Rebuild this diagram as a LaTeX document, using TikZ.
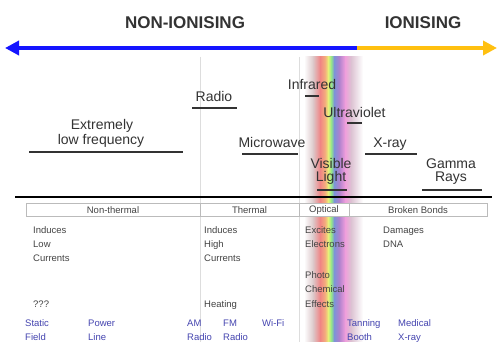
\documentclass[tikz,border=0pt]{standalone}
\usepackage{fontspec}
\setmainfont{Liberation Sans}
\usetikzlibrary{arrows.meta}
\definecolor{ionblue}{HTML}{1515FF}
\definecolor{ionyellow}{HTML}{FFC010}
\definecolor{txt}{HTML}{333333}
\definecolor{smalltxt}{HTML}{444444}
\definecolor{usetxt}{HTML}{4545B0}
\definecolor{guidecol}{HTML}{DDDDDD}
\definecolor{boxline}{HTML}{BBBBBB}
\definecolor{bandgray}{HTML}{DCC8CA}
\definecolor{bandred}{HTML}{F08484}
\definecolor{bandorange}{HTML}{F4AE7E}
\definecolor{bandyellow}{HTML}{E8F078}
\definecolor{bandgreen}{HTML}{96E888}
\definecolor{bandblue}{HTML}{7C94D8}
\definecolor{bandpurple}{HTML}{AE82CE}
\definecolor{bandpink}{HTML}{F09EDC}
\definecolor{bandpinkgray}{HTML}{DCC2D2}
\begin{document}
\begin{tikzpicture}[x=1pt,y=-1pt,
  lbl/.style={text=txt, font=\fontsize{14}{14}\selectfont, inner sep=0pt, anchor=base},
  headlbl/.style={text=txt, font=\fontsize{17}{17}\selectfont\bfseries, inner sep=0pt},
  sm/.style={text=smalltxt, font=\fontsize{9.5}{10}\selectfont, inner sep=0pt, anchor=base west},
  usel/.style={sm, text=usetxt},
  catlbl/.style={text=smalltxt, font=\fontsize{9.5}{10}\selectfont, inner sep=0pt},
  uline/.style={draw=txt, line width=1.3pt},
  guideline/.style={draw=guidecol, line width=1pt},
  catbox/.style={draw=boxline, line width=0.7pt, fill=white},
  bigarrow/.style={line width=4pt, -{Triangle[length=14pt,width=14pt]}}
]
\useasboundingbox (0,0) rectangle (498,342);
\fill[white] (0,0) rectangle (498,342);

% guide lines
\draw[guideline] (200,57) -- (200,342);
\draw[guideline] (299,57) -- (299,342);

% visible band
\shade[left color=white, right color=bandgray] (304,57) rectangle (313.3,342);
\shade[left color=bandgray, right color=bandred] (313,57) rectangle (320.3,342);
\shade[left color=bandred, right color=bandorange] (320,57) rectangle (325.3,342);
\shade[left color=bandorange, right color=bandyellow] (325,57) rectangle (328.3,342);
\shade[left color=bandyellow, right color=bandgreen] (328,57) rectangle (331.3,342);
\shade[left color=bandgreen, right color=bandblue] (331,57) rectangle (334.3,342);
\shade[left color=bandblue, right color=bandpurple] (334,57) rectangle (339.3,342);
\shade[left color=bandpurple, right color=bandpink] (339,57) rectangle (345.3,342);
\shade[left color=bandpink, right color=bandpinkgray] (345,57) rectangle (351.3,342);
\shade[left color=bandpinkgray, right color=white] (351,57) rectangle (363,342);

% headings and arrow
\node[headlbl] (nonion) at (185,23) {NON-IONISING};
\node[headlbl] (ion) at (423,23) {IONISING};
\coordinate (split) at (357,48);
\coordinate (lefttip) at (5,48);
\coordinate (righttip) at (497,48);
\draw[bigarrow, ionblue] (split) -- (lefttip);
\draw[bigarrow, ionyellow] (split) -- (righttip);

% band labels
\node[lbl] (radio) at (214,102) {Radio};
\draw[uline] (192,108) -- (237,108);
\node[lbl] (infrared) at (312,90) {Infrared};
\draw[uline] (305,96) -- (319,96);
\node[lbl] (uv) at (354.5,118) {Ultraviolet};
\draw[uline] (347,123) -- (362,123);
\node[lbl] (elfA) at (102,130) {Extremely};
\node[lbl] (elfB) at (101,145) {low frequency};
\draw[uline] (29,152) -- (183,152);
\node[lbl] (micro) at (272,147) {Microwave};
\draw[uline] (242,154) -- (298,154);
\node[lbl] (xray) at (390,148) {X-ray};
\draw[uline] (365,154) -- (417,154);
\node[lbl] (visA) at (331,168) {Visible};
\node[lbl] (visB) at (331,182) {Light};
\draw[uline] (317,190) -- (347,190);
\node[lbl] (gamA) at (451,168) {Gamma};
\node[lbl] (gamB) at (451,182) {Rays};
\draw[uline] (422,190) -- (482,190);

% axis line
\draw[black, line width=2.6pt] (15,197) -- (492,197);

% category boxes
\draw[catbox] (26,203.5) rectangle (200,216.5);
\draw[catbox] (200,203.5) rectangle (299,216.5);
\draw[catbox] (299,203.5) rectangle (349,216.5);
\draw[catbox] (349,203.5) rectangle (487,216.5);
\node[catlbl] (nonthermal) at (113,210) {Non-thermal};
\node[catlbl] (thermal) at (249.5,210) {Thermal};
\node[catlbl] (optical) at (324,210) {Optical};
\node[catlbl] (broken) at (418,210) {Broken Bonds};

% effects
\node[sm] (e1) at (33,233.5) {Induces};
\node[sm] (e2) at (33,247) {Low};
\node[sm] (e3) at (33,261.5) {Currents};
\node[sm] (e4) at (33,307.5) {???};
\node[sm] (t1) at (204,233.5) {Induces};
\node[sm] (t2) at (204,247) {High};
\node[sm] (t3) at (204,261.5) {Currents};
\node[sm] (t4) at (204,307.5) {Heating};
\node[sm] (o1) at (305,233.5) {Excites};
\node[sm] (o2) at (305,247.5) {Electrons};
\node[sm] (o3) at (305,278.5) {Photo};
\node[sm] (o4) at (305,292.5) {Chemical};
\node[sm] (o5) at (305,307.5) {Effects};
\node[sm] (b1) at (383,233.5) {Damages};
\node[sm] (b2) at (383,247.5) {DNA};

% uses
\node[usel] (u1) at (25,326.5) {Static};
\node[usel] (u2) at (25,340.5) {Field};
\node[usel] (u3) at (88,326.5) {Power};
\node[usel] (u4) at (88,340.5) {Line};
\node[usel] (u5) at (187,326.5) {AM};
\node[usel] (u6) at (187,340.5) {Radio};
\node[usel] (u7) at (223,326.5) {FM};
\node[usel] (u8) at (223,340.5) {Radio};
\node[usel] (u9) at (262,326.5) {Wi-Fi};
\node[usel] (u10) at (347,326.5) {Tanning};
\node[usel] (u11) at (347,340.5) {Booth};
\node[usel] (u12) at (398,326.5) {Medical};
\node[usel] (u13) at (398,340.5) {X-ray};
\end{tikzpicture}
\end{document}
